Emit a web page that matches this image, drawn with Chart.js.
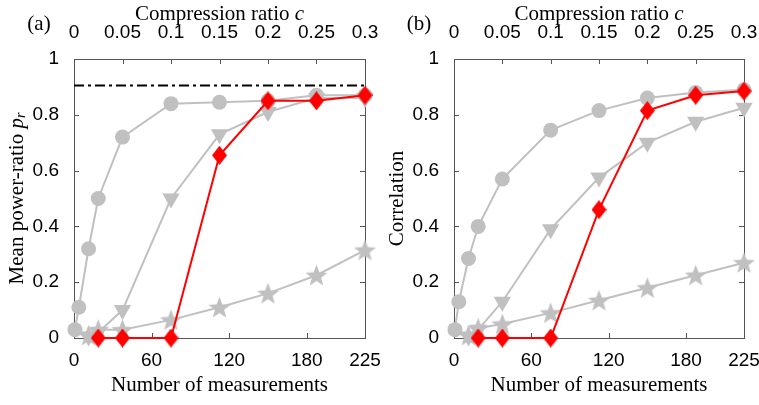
<!DOCTYPE html>
<html>
<head>
<meta charset="utf-8">
<script src="https://cdn.jsdelivr.net/npm/chart.js@4.4.0/dist/chart.umd.min.js"></script>
<style>
html, body { margin: 0; padding: 0; background: #fff; overflow: hidden; }
#chartA { position: absolute; left: 0; top: 0; }
#chartB { position: absolute; left: 380px; top: 0; }
</style>
</head>
<body>
<canvas id="chartA" width="380" height="405"></canvas>
<canvas id="chartB" width="379" height="405"></canvas>
<script>
// measurements (x) for each series
const mCircle = [0.75, 3.75, 11.25, 18.75, 37.5, 75, 112.5, 150, 187.5, 225];
const mTri = [11.25, 18.75, 37.5, 75, 112.5, 150, 187.5, 225];
const mStar = [11.25, 18.75, 37.5, 75, 112.5, 150, 187.5, 225];
const mRed = [18.75, 37.5, 75, 112.5, 150, 187.5, 225];

// (a) mean power-ratio
const circA = [0.03, 0.11, 0.32, 0.50, 0.72, 0.84, 0.845, 0.85, 0.87, 0.87];
const triA = [0.005, 0.02, 0.10, 0.50, 0.73, 0.81, 0.86, 0.86];
const starA = [0.01, 0.03, 0.03, 0.065, 0.11, 0.16, 0.225, 0.315];
const redA = [0, 0, 0, 0.655, 0.85, 0.85, 0.87];
const refLevelA = 0.905;

// (b) correlation
const circB = [0.03, 0.13, 0.285, 0.40, 0.57, 0.745, 0.815, 0.86, 0.88, 0.89];
const triB = [0.005, 0.03, 0.13, 0.39, 0.575, 0.70, 0.775, 0.825];
const starB = [0.01, 0.035, 0.05, 0.09, 0.135, 0.18, 0.225, 0.27];
const redB = [0, 0, 0, 0.46, 0.815, 0.87, 0.885];

const xTicks = [0, 60, 120, 180, 225];
const xMax = 225;
const cMax = 0.3;

const GRAY = 'rgb(192,192,192)';
const RED = 'rgb(255,0,0)';
const AXIS = '#555';
const SERIF = '"Liberation Serif", "Times New Roman", serif';
const SANS = '"Liberation Sans", Arial, sans-serif';

function pts(xs, ys) {
  return xs.map((x, i) => ({ x: x, y: ys[i] }));
}

function makeStar(color, R) {
  const c = document.createElement('canvas');
  const s = Math.ceil(2 * R + 2);
  c.width = s; c.height = s;
  const g = c.getContext('2d');
  g.fillStyle = color;
  g.beginPath();
  for (let i = 0; i < 10; i++) {
    const r = i % 2 ? R * 0.42 : R;
    const a = -Math.PI / 2 + i * Math.PI / 5;
    g.lineTo(s / 2 + r * Math.cos(a), s / 2 + 1 + r * Math.sin(a));
  }
  g.closePath();
  g.fill();
  return c;
}

function makeDiamond(color, w, h) {
  const c = document.createElement('canvas');
  c.width = w; c.height = h;
  const g = c.getContext('2d');
  g.fillStyle = color;
  g.beginPath();
  g.moveTo(w / 2, 0); g.lineTo(w, h / 2); g.lineTo(w / 2, h); g.lineTo(0, h / 2);
  g.closePath();
  g.fill();
  return c;
}

const starImg = makeStar(GRAY, 11.5);
const diamondImg = makeDiamond(RED, 15, 19);

function drawParts(ctx, parts, cx, cy) {
  let total = 0;
  parts.forEach(p => { ctx.font = p.font; total += ctx.measureText(p.t).width; });
  let x = cx - total / 2;
  ctx.textAlign = 'left';
  ctx.textBaseline = 'middle';
  parts.forEach(p => {
    ctx.font = p.font;
    ctx.fillText(p.t, x, cy + (p.dy || 0));
    x += ctx.measureText(p.t).width;
  });
}

const framePlugin = {
  id: 'frame',
  beforeDatasetsDraw(chart, args, opts) {
    const ctx = chart.ctx;
    const a = chart.chartArea;
    ctx.save();
    ctx.strokeStyle = AXIS;
    ctx.lineWidth = 1;
    ctx.strokeRect(a.left + 0.5, a.top + 0.5, a.right - a.left, a.bottom - a.top);
    const tl = 5;
    ctx.beginPath();
    chart.scales.y.ticks.forEach(t => {
      const y = Math.round(chart.scales.y.getPixelForValue(t.value)) + 0.5;
      ctx.moveTo(a.left, y); ctx.lineTo(a.left + tl, y);
      ctx.moveTo(a.right, y); ctx.lineTo(a.right - tl, y);
    });
    chart.scales.x.ticks.forEach(t => {
      const x = Math.round(chart.scales.x.getPixelForValue(t.value)) + 0.5;
      ctx.moveTo(x, a.bottom); ctx.lineTo(x, a.bottom - tl);
    });
    chart.scales.x2.ticks.forEach(t => {
      const x = Math.round(chart.scales.x2.getPixelForValue(t.value)) + 0.5;
      ctx.moveTo(x, a.top); ctx.lineTo(x, a.top + tl);
    });
    ctx.stroke();
    ctx.restore();
  },
  afterDraw(chart, args, opts) {
    const ctx = chart.ctx;
    const a = chart.chartArea;
    const cx = (a.left + a.right) / 2;
    ctx.save();
    ctx.fillStyle = '#000';
    drawParts(ctx, [{ t: opts.letter, font: '21px ' + SERIF }], 39, 24);
    drawParts(ctx, [
      { t: 'Compression ratio ', font: '21px ' + SERIF },
      { t: 'c', font: 'italic 21px ' + SERIF }
    ], cx, 14);
    drawParts(ctx, [{ t: 'Number of measurements', font: '21px ' + SERIF }], cx, 385);
    ctx.translate(17, (a.top + a.bottom) / 2);
    ctx.rotate(-Math.PI / 2);
    drawParts(ctx, opts.yTitle, 0, 0);
    ctx.restore();
  }
};

function graphPanel(canvasID, letter, yTitle, circ, tri, star, red, refLevel) {
  const datasets = [
    {
      data: pts(mRed, red),
      borderColor: RED, backgroundColor: RED, borderWidth: 2,
      pointStyle: diamondImg, pointRadius: 9
    },
    {
      data: pts(mCircle, circ),
      borderColor: GRAY, backgroundColor: GRAY, borderWidth: 2,
      pointStyle: 'circle', pointRadius: 7.5, pointBorderWidth: 0
    },
    {
      data: pts(mTri, tri),
      borderColor: GRAY, backgroundColor: GRAY, borderWidth: 2,
      pointStyle: 'triangle', pointRotation: 180, pointRadius: 10, pointBorderWidth: 0
    },
    {
      data: pts(mStar, star),
      borderColor: GRAY, backgroundColor: GRAY, borderWidth: 2,
      pointStyle: starImg, pointRadius: 11
    }
  ];
  if (refLevel !== null) {
    datasets.push({
      data: [{ x: 0, y: refLevel }, { x: xMax, y: refLevel }],
      borderColor: '#000', borderWidth: 2, borderDash: [10, 4, 3, 4],
      pointRadius: 0
    });
  }
  datasets.forEach(d => { d.clip = false; d.tension = 0; });

  const tickFont = { family: SANS, size: 19 };
  const config = {
    type: 'line',
    data: { datasets: datasets },
    options: {
      responsive: false,
      animation: false,
      events: [],
      layout: { padding: { left: 0, right: 15, top: 0, bottom: 0 } },
      plugins: {
        legend: { display: false },
        tooltip: { enabled: false },
        frame: { letter: letter, yTitle: yTitle }
      },
      scales: {
        x: {
          type: 'linear', position: 'bottom', min: 0, max: xMax,
          grid: { display: false }, border: { display: false },
          afterBuildTicks: s => { s.ticks = xTicks.map(v => ({ value: v })); },
          afterFit: s => { s.height = 67; s.paddingLeft = 0; s.paddingRight = 0; },
          ticks: { padding: 3, color: '#000', font: tickFont, maxRotation: 0,
                   callback: v => String(v) }
        },
        x2: {
          type: 'linear', position: 'top', min: 0, max: cMax,
          grid: { display: false }, border: { display: false },
          afterFit: s => { s.height = 59; s.paddingLeft = 0; s.paddingRight = 0; },
          ticks: { stepSize: 0.05, padding: 7, color: '#000', font: tickFont, maxRotation: 0,
                   callback: v => String(+v.toFixed(2)) }
        },
        y: {
          type: 'linear', position: 'left', min: 0, max: 1,
          grid: { display: false }, border: { display: false },
          afterFit: s => { s.width = 74; s.paddingTop = 0; s.paddingBottom = 0; },
          ticks: { stepSize: 0.2, padding: 7, color: '#000', font: tickFont,
                   callback: v => String(+v.toFixed(1)) }
        }
      }
    },
    plugins: [framePlugin]
  };

  const ctx = document.getElementById(canvasID).getContext('2d');
  return new Chart(ctx, config);
}

graphPanel('chartA', '(a)', [
  { t: 'Mean power-ratio ', font: '21px ' + SERIF },
  { t: 'p', font: 'italic 21px ' + SERIF },
  { t: 'r', font: 'italic 14px ' + SERIF, dy: 4 }
], circA, triA, starA, redA, refLevelA);

graphPanel('chartB', '(b)', [
  { t: 'Correlation', font: '21px ' + SERIF }
], circB, triB, starB, redB, null);
</script>
</body>
</html>
